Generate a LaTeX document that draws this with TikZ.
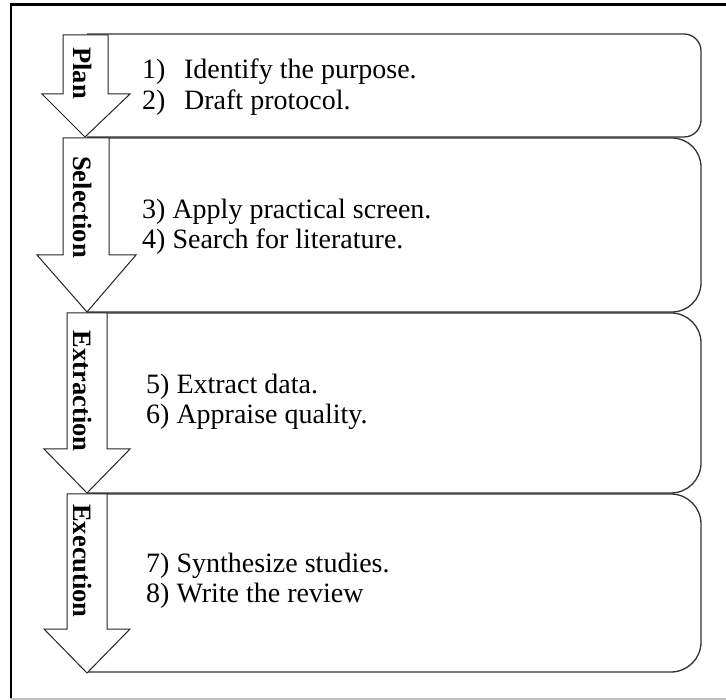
\documentclass[tikz,border=0pt]{standalone}
\usepackage{fontspec}
\setmainfont{Liberation Serif}
\begin{document}
\begin{tikzpicture}[x=1pt,y=-1pt,
  boxline/.style={draw=black!80, line width=1.3pt},
  arrowshape/.style={draw=black!85, line width=1pt, fill=white, line join=miter},
  steptext/.style={anchor=west, align=left, inner sep=0pt, font=\fontsize{28}{30.5}\selectfont},
  phase/.style={rotate=-90, inner sep=0pt, font=\fontsize{26.5}{28}\selectfont\bfseries}]
\useasboundingbox (0,0) rectangle (726,700);
\fill[white] (0,0) rectangle (726,700);
% outer frame
\draw[black, line width=2.5pt] (11,4.5) -- (726,4.5);
\draw[black, line width=2pt] (11,3.3) -- (11,699);
\draw[black!25, line width=1.5pt] (10,699) -- (726,699);

% boxes (right corners rounded, left side hidden under the arrows)
\draw[boxline, rounded corners=17pt] (87,34) -- (701,34) -- (701,137) -- (87,137);
\draw[boxline, rounded corners=29pt] (87,138) -- (701,138) -- (701,312) -- (87,312);
\draw[boxline, rounded corners=30pt] (87,313) -- (701,313) -- (701,493) -- (87,493);
\draw[boxline, rounded corners=30pt] (87,494) -- (701,494) -- (701,672) -- (87,672);

% arrows
\draw[arrowshape] (63,35) -- (108,35) -- (108,94) -- (130,94) -- (85,137) -- (42,94) -- (63,94) -- cycle;
\draw[arrowshape] (63,138) -- (109,138) -- (109,255) -- (136,255) -- (87,312) -- (37,255) -- (63,255) -- cycle;
\draw[arrowshape] (67,313) -- (107,313) -- (107,449) -- (130,449) -- (87,493) -- (44,449) -- (67,449) -- cycle;
\draw[arrowshape] (67,494) -- (107,494) -- (107,629) -- (130,629) -- (87,673) -- (44,629) -- (67,629) -- cycle;

% phase labels
\node[phase] (plan) at (83,73) {Plan};
\node[phase] (selection) at (83,207) {Selection};
\node[phase] (extraction) at (83,391) {Extraction};
\node[phase] (execution) at (83,561) {Execution};

% step texts
\node[steptext] (t1) at (142,87) {\makebox[42pt][l]{1)}Identify the purpose.\\\makebox[42pt][l]{2)}Draft protocol.};
\node[steptext] (t2) at (142,227) {3) Apply practical screen.\\4) Search for literature.};
\node[steptext] (t3) at (146,402) {5) Extract data.\\6) Appraise quality.};
\node[steptext] (t4) at (146,581) {7) Synthesize studies.\\8) Write the review};
\end{tikzpicture}
\end{document}
